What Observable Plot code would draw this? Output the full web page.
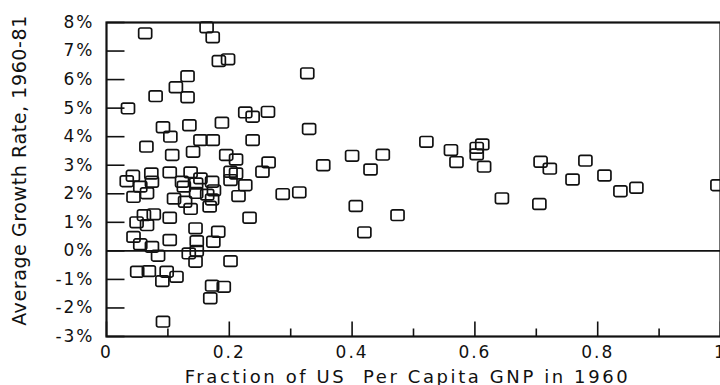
<!DOCTYPE html>
<html><head><meta charset="utf-8">
<script src="https://cdn.jsdelivr.net/npm/d3@7"></script>
<script src="https://cdn.jsdelivr.net/npm/@observablehq/plot@0.6"></script>
<style>
html,body{margin:0;padding:0;background:#fff;overflow:hidden}
#chart svg{display:block}
</style></head><body><div id="chart"></div><script>
// Fraction of US per capita GNP in 1960
const gnpFraction = [
  0.063,0.163,0.173,0.183,0.198,0.132,0.113,0.132,0.080,0.035,
  0.092,0.104,0.135,0.188,0.153,0.173,0.065,0.141,0.107,0.195,
  0.211,0.226,0.238,0.238,0.263,0.327,0.330,0.264,0.254,
  0.287,0.314,0.353,0.400,0.430,0.450,0.406,0.420,0.474,0.521,
  0.561,0.570,0.603,0.603,0.612,0.615,0.644,0.707,0.722,0.705,
  0.759,0.780,0.811,0.837,0.863,0.995,
  0.043,0.033,0.073,0.074,0.103,0.137,0.123,0.126,0.153,0.146,
  0.172,0.175,0.202,0.211,0.202,0.226,0.055,
  0.044,0.066,0.110,0.146,0.164,0.168,0.215,0.233,0.172,0.128,0.137,
  0.049,0.061,0.077,0.066,0.103,0.145,0.182,0.147,0.174,0.044,
  0.055,0.074,0.103,0.147,
  0.084,0.134,0.145,0.202,0.050,0.069,0.098,0.114,0.091,0.172,
  0.191,0.169,0.092
];
// Average growth rate 1960-81 (%)
const growthRate = [
  7.62,7.83,7.48,6.65,6.71,6.12,5.73,5.38,5.42,4.99,
  4.33,4.00,4.40,4.49,3.88,3.88,3.65,3.47,3.36,3.36,
  3.20,4.85,4.70,3.88,4.87,6.22,4.27,3.10,2.77,
  1.99,2.05,3.00,3.33,2.85,3.37,1.57,0.65,1.25,3.82,
  3.53,3.11,3.61,3.38,3.73,2.95,1.84,3.12,2.88,1.64,
  2.50,3.16,2.64,2.09,2.21,2.30,
  2.63,2.44,2.71,2.42,2.75,2.75,2.42,2.25,2.54,2.36,
  2.42,2.12,2.77,2.71,2.48,2.30,2.25,
  1.89,2.02,1.83,2.03,1.97,1.55,1.92,1.16,1.80,1.72,1.47,
  1.00,1.25,1.28,0.90,1.16,0.79,0.67,0.34,0.32,0.49,
  0.23,0.14,0.38,0.00,
  -0.17,-0.09,-0.38,-0.36,-0.73,-0.71,-0.73,-0.91,-1.06,-1.22,
  -1.26,-1.66,-2.48
];
const yTicks = [-3,-2,-1,0,1,2,3,4,5,6,7,8];
const xTicks = [0,0.2,0.4,0.6,0.8,1];
const xMinorTicks = [0.1,0.3,0.5,0.7,0.9];
const xTitle = "Fraction of US  Per Capita GNP in 1960";
const yTitle = "Average Growth Rate, 1960-81";

const points = gnpFraction.map((x, i) => ({x, y: growthRate[i]}));

// rounded box marker
const boxSymbol = {
  draw(ctx, size) {
    const r = Math.sqrt(size / Math.PI);
    const w = r, h = r * 0.82, c = r * 0.28;
    ctx.moveTo(-w + c, -h);
    ctx.lineTo(w - c, -h);
    ctx.arcTo(w, -h, w, -h + c, c);
    ctx.lineTo(w, h - c);
    ctx.arcTo(w, h, w - c, h, c);
    ctx.lineTo(-w + c, h);
    ctx.arcTo(-w, h, -w, h - c, c);
    ctx.lineTo(-w, -h + c);
    ctx.arcTo(-w, -h, -w + c, -h, c);
    ctx.closePath();
  }
};
const tickRight = {draw(ctx) { ctx.moveTo(0, 0); ctx.lineTo(18, 0); }};
const tickUpMajor = {draw(ctx) { ctx.moveTo(0, 0); ctx.lineTo(0, -15); }};
const tickUpMinor = {draw(ctx) { ctx.moveTo(0, 0); ctx.lineTo(0, -8); }};

const chart = Plot.plot({
  width: 720,
  height: 385,
  marginTop: 22,
  marginBottom: 49,
  marginLeft: 106,
  marginRight: 0,
  style: {fontFamily: "'DejaVu Sans', sans-serif", fontSize: "17px", color: "#111", background: "#fff", overflow: "visible"},
  x: {domain: [0, 1], ticks: xTicks, tickSize: 0, tickPadding: 9, label: null,
      tickFormat: d => d === 0 ? "0" : d === 1 ? "1" : d.toFixed(1)},
  y: {domain: [-3, 8], ticks: yTicks, tickSize: 0, tickPadding: 12, label: null,
      tickFormat: d => d + "%"},
  marks: [
    Plot.frame({stroke: "#111", strokeWidth: 2.2}),
    Plot.ruleY([0], {stroke: "#111", strokeWidth: 1.8}),
    Plot.dot(yTicks, {x: () => 0, y: d => d, symbol: tickRight, fill: "none", stroke: "#111", strokeWidth: 1.6}),
    Plot.dot(xTicks, {x: d => d, y: () => -3, symbol: tickUpMajor, fill: "none", stroke: "#111", strokeWidth: 1.6}),
    Plot.dot(xMinorTicks, {x: d => d, y: () => -3, symbol: tickUpMinor, fill: "none", stroke: "#111", strokeWidth: 1.6}),
    Plot.dot(points, {x: "x", y: "y", r: 6.5, symbol: boxSymbol, fill: "none", stroke: "#111", strokeWidth: 1.7}),
    Plot.text([yTitle], {frameAnchor: "left", textAnchor: "middle", dx: -87, dy: -9, rotate: -90, fontSize: 19, fill: "#111"}),
    Plot.text([xTitle], {frameAnchor: "bottom", textAnchor: "middle", dx: -6, dy: 46, fontSize: 18, fill: "#111"})
  ]
});
// letter spacing to mimic the wide lettering of the original
chart.querySelectorAll("text").forEach(t => {
  const s = t.textContent;
  if (s === xTitle) t.style.letterSpacing = "2.6px";
  else if (s === yTitle) t.style.letterSpacing = "0.6px";
  else t.style.letterSpacing = "2px";
});
document.getElementById("chart").appendChild(chart);
</script></body></html>
